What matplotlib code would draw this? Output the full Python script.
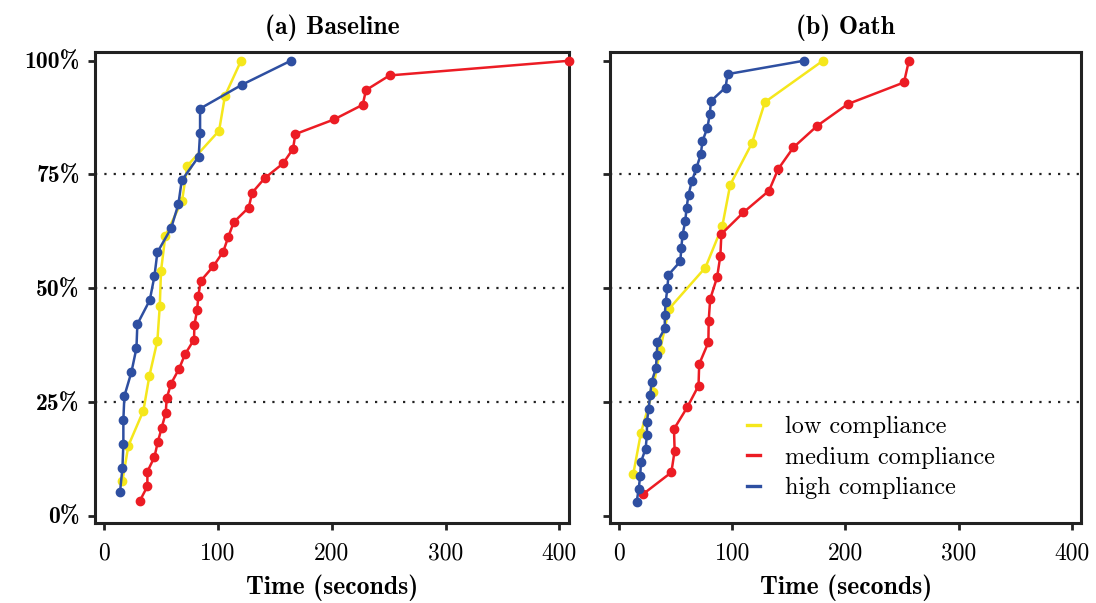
import matplotlib
matplotlib.use("Agg")
import matplotlib.pyplot as plt

# fraction of participants (y) vs time in seconds (x), one curve per compliance group
base_low = [16.1, 21.3, 34.5, 39.8, 46.8, 48.9, 50.0, 53.8, 68.5, 73.1, 101.0, 106.2, 120.3]
base_med = [31.3, 38.0, 38.0, 44.2, 47.1, 50.6, 54.1, 55.0, 58.8, 65.8, 71.1, 79.0, 79.3,
            81.7, 82.8, 84.9, 96.0, 104.7, 109.1, 113.9, 127.1, 130.0, 141.1, 157.2,
            166.0, 168.0, 202.0, 227.2, 230.1, 250.8, 408.7]
base_high = [14.0, 16.1, 16.9, 16.9, 17.8, 24.0, 28.4, 29.2, 40.1, 44.2, 46.8, 58.8,
             65.2, 68.2, 83.1, 84.3, 84.3, 121.2, 164.0]

oath_low = [12.5, 19.3, 29.6, 36.2, 44.1, 76.3, 91.2, 98.2, 117.3, 128.9, 180.1]
oath_med = [21.3, 46.2, 49.1, 48.5, 60.2, 70.2, 70.8, 78.9, 79.2, 80.5, 86.6, 89.5,
            90.4, 109.9, 132.5, 140.6, 154.1, 175.2, 202.1, 251.8, 256.1]
oath_high = [15.5, 17.3, 18.7, 19.3, 23.4, 24.6, 24.6, 26.1, 27.5, 28.7, 32.5, 33.3,
             33.9, 40.4, 40.4, 41.2, 42.7, 43.6, 54.1, 55.0, 56.1, 58.5, 59.6, 61.4,
             64.3, 68.4, 72.2, 73.7, 78.1, 80.1, 81.3, 94.1, 95.9, 163.2]

titles = ["(a) Baseline", "(b) Oath"]
labels = ["low compliance", "medium compliance", "high compliance"]
colors = ["#f5e71c", "#ec1c24", "#2e4fa1"]
xticks = [0, 100, 200, 300, 400]
yticks = [0, 0.25, 0.5, 0.75, 1.0]
ytick_labels = ["0%", "25%", "50%", "75%", "100%"]


def cdf(times):
    n = len(times)
    return [(k + 1) / n for k in range(n)]


fig = plt.figure(figsize=(10.96, 6.03), dpi=100)
ax1 = fig.add_axes([0.0867, 0.1322, 0.4325, 0.782])
ax2 = fig.add_axes([0.5566, 0.1322, 0.4300, 0.782])

panels = [(ax1, [base_low, base_med, base_high]), (ax2, [oath_low, oath_med, oath_high])]

for i, (ax, series) in enumerate(panels):
    for y in [0.25, 0.5, 0.75]:
        ax.axhline(y, color="#222222", linestyle=(0, (1, 3.2)), linewidth=1.6, zorder=1)
    for data, c, lab in zip(series, colors, labels):
        ax.plot(data, cdf(data), color=c, linewidth=1.8, marker="o",
                markersize=6, label=lab, zorder=3, clip_on=False)
    ax.set_xlim(-8, 408.5)
    ax.set_ylim(-0.0167, 1.0198)
    ax.set_xticks(xticks)
    ax.set_xticklabels([str(t) for t in xticks], fontfamily="cmr10", fontsize=17)
    ax.set_yticks(yticks)
    if i == 0:
        ax.set_yticklabels(ytick_labels, fontfamily="cmb10", fontsize=17)
    else:
        ax.set_yticklabels([])
    ax.tick_params(direction="out", length=5, width=2, color="#222222")
    ax.tick_params(axis="x", pad=9)
    ax.tick_params(axis="y", pad=6)
    for s in ax.spines.values():
        s.set_linewidth(2.2)
        s.set_color("#222222")
    ax.set_title(titles[i], fontfamily="cmb10", fontsize=18.5, pad=13)
    ax.set_xlabel("Time (seconds)", fontfamily="cmb10", fontsize=18.5, labelpad=7)

leg = ax2.legend(loc="lower left", bbox_to_anchor=(0.265, 0.025), frameon=False,
                 borderpad=0, handlelength=0.55, handletextpad=1.0, labelspacing=0.35,
                 prop={"family": "cmr10", "size": 17.5})
for h in leg.legend_handles:
    h.set_marker("")
    h.set_linewidth(2.4)

fig.savefig("out.png", dpi=100)
